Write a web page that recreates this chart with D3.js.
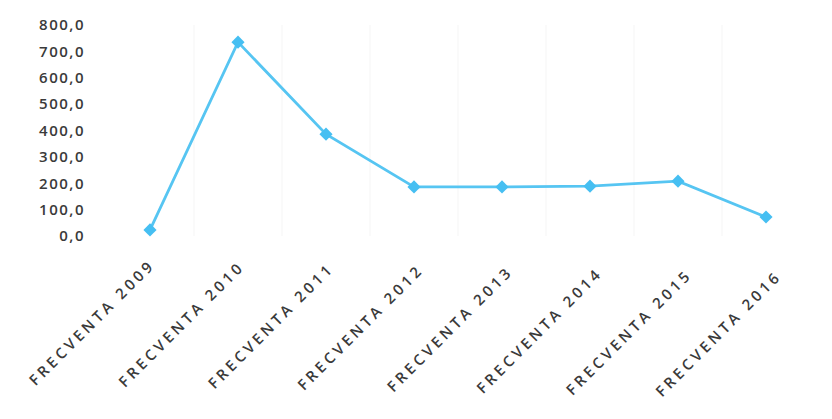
<!DOCTYPE html>
<html><head><meta charset="utf-8">
<script src="https://cdn.jsdelivr.net/npm/d3@7"></script>
<style>body{margin:0;background:#fff}svg{display:block}</style>
</head><body>
<svg id="c" width="832" height="419"></svg>
<script>
const categories = ["FRECVENTA 2009","FRECVENTA 2010","FRECVENTA 2011","FRECVENTA 2012","FRECVENTA 2013","FRECVENTA 2014","FRECVENTA 2015","FRECVENTA 2016"];
const values = [23, 735, 386, 186, 186, 189, 208, 72];
const yTicks = [0,100,200,300,400,500,600,700,800];

const svg = d3.select("#c");
const x = d3.scaleBand().domain(categories).range([106, 810]);
const y = d3.scaleLinear().domain([0, 800]).range([236, 25]);
const fmt = v => d3.format(".1f")(v).replace(".", ",");

// faint vertical band separators
svg.append("g").selectAll("line").data(categories.slice(1)).join("line")
  .attr("x1", d => x(d)).attr("x2", d => x(d))
  .attr("y1", y(800)).attr("y2", y(0))
  .attr("stroke", "#f5f5f5").attr("stroke-width", 1);

// y axis
const ya = svg.append("g").attr("transform", "translate(92,0)")
  .call(d3.axisLeft(y).tickValues(yTicks).tickFormat(fmt).tickSize(0).tickPadding(7));
ya.select(".domain").remove();
ya.selectAll("text").attr("font-family", "'Open Sans', sans-serif").attr("font-size", 15)
  .attr("font-weight", 600).attr("fill", "#3a3a3a").attr("letter-spacing", "1.5px");

// x axis labels
const xa = svg.append("g").attr("transform", "translate(0,268)")
  .call(d3.axisBottom(x).tickSize(0).tickPadding(0));
xa.select(".domain").remove();
xa.selectAll("text")
  .attr("font-family", "'Open Sans', sans-serif").attr("font-size", 15).attr("font-weight", 600)
  .attr("fill", "#3a3a3a").attr("letter-spacing", "3.5px")
  .attr("text-anchor", "end").attr("dy", 0).attr("y", 0)
  .attr("transform", (d, i) => `translate(${6 + i * 1.5},${-2 + i * 1.6}) rotate(-45)`);

// line
const line = d3.line().x(d => x(d.c) + x.bandwidth()/2).y(d => y(d.v));
const pts = categories.map((c, i) => ({c, v: values[i]}));
svg.append("path").datum(pts).attr("d", line)
  .attr("fill", "none").attr("stroke", "#56c5f2").attr("stroke-width", 2.8);

svg.append("g").selectAll("path").data(pts).join("path")
  .attr("d", d3.symbol(d3.symbolDiamond2, 110)())
  .attr("transform", d => `translate(${x(d.c) + x.bandwidth()/2},${y(d.v)})`)
  .attr("fill", "#46bff2");
</script>
</body></html>
